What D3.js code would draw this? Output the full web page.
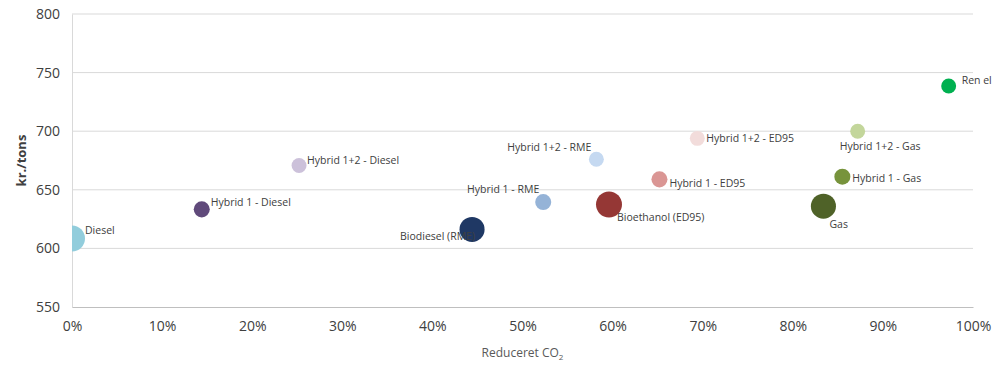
<!DOCTYPE html>
<html>
<head>
<meta charset="utf-8">
<script src="https://cdn.jsdelivr.net/npm/d3@7"></script>
<style>
  html, body { margin: 0; padding: 0; background: #fff; }
  svg { display: block; }
</style>
</head>
<body>
<svg id="chart" width="1004" height="366"></svg>
<script>
// ---- data ----
const names = ["Diesel", "Hybrid 1 - Diesel", "Hybrid 1+2 - Diesel",
  "Biodiesel (RME)", "Hybrid 1 - RME", "Hybrid 1+2 - RME",
  "Bioethanol (ED95)", "Hybrid 1 - ED95", "Hybrid 1+2 - ED95",
  "Gas", "Hybrid 1 - Gas", "Hybrid 1+2 - Gas", "Ren el"];
const co2Reduction = [0.0, 0.144, 0.252, 0.444, 0.523, 0.582, 0.596, 0.652, 0.694, 0.834, 0.855, 0.872, 0.973];
const costPerTon = [608.5, 633.3, 670.8, 616.2, 639.5, 676, 637.5, 658.9, 693.9, 636, 661.2, 700, 738.5];
const bubbleSize = [100, 38, 33, 93, 38, 33, 100, 38, 33, 93, 38, 33, 33];
const xTicks = [0, 0.1, 0.2, 0.3, 0.4, 0.5, 0.6, 0.7, 0.8, 0.9, 1.0];
const yTicks = [550, 600, 650, 700, 750, 800];

// ---- styles / layout ----
const colors = ["#92cddc", "#604a7b", "#ccc1da", "#1f3864", "#95b3d7", "#c5d9f1",
  "#953735", "#da9694", "#f2dcdb", "#4f6228", "#77933c", "#c3d69b", "#00b050"];
// label placement: [dx, dy, anchor]
const labelPlace = [[13, -8, "start"], [9, -7, "start"], [8, -5, "start"],
  [3, 7, "end"], [-4, -13, "end"], [-5, -12, "end"],
  [8, 13, "start"], [10, 4, "start"], [9, 0, "start"],
  [6, 18, "start"], [10, 2, "start"], [-18, 15, "start"], [13, -6, "start"]];

const svg = d3.select("#chart");
const x = d3.scaleLinear().domain([0, 1]).range([72, 973]);
const y = d3.scaleLinear().domain([550, 800]).range([307, 14]);
const r = d3.scaleSqrt().domain([0, 100]).range([0, 13]);
const font = "'Open Sans', 'Liberation Sans', sans-serif";

svg.append("defs").append("clipPath").attr("id", "plotClip")
  .append("rect").attr("x", x(0)).attr("y", y(800))
  .attr("width", x(1) - x(0)).attr("height", y(550) - y(800));

// gridlines
svg.append("g").selectAll("line").data(yTicks.filter(d => d > 550)).join("line")
  .attr("x1", x(0)).attr("x2", x(1))
  .attr("y1", d => y(d)).attr("y2", d => y(d))
  .attr("stroke", "#d9d9d9").attr("stroke-width", 1);

// y axis
const yAxis = svg.append("g").attr("transform", `translate(${x(0)},0)`)
  .call(d3.axisLeft(y).tickValues(yTicks).tickSize(0).tickPadding(12));
yAxis.select(".domain").attr("stroke", "#d9d9d9");
yAxis.selectAll("text").attr("font-family", font).attr("font-size", 14).attr("fill", "#404040");

// x axis
const xAxis = svg.append("g").attr("transform", `translate(0,${y(550)})`)
  .call(d3.axisBottom(x).tickValues(xTicks).tickFormat(d3.format(".0%")).tickSize(0).tickPadding(14));
xAxis.select(".domain").attr("stroke", "#bfbfbf");
xAxis.selectAll("text").attr("font-family", font).attr("font-size", 14).attr("fill", "#404040");

// axis titles
svg.append("text").attr("transform", `translate(26,${(y(550) + y(800)) / 2}) rotate(-90)`)
  .attr("text-anchor", "middle").attr("font-family", font).attr("font-size", 13)
  .attr("font-weight", "bold").attr("fill", "#404040").text("kr./tons");

const xt = svg.append("text").attr("x", (x(0) + x(1)) / 2).attr("y", 357)
  .attr("text-anchor", "middle").attr("font-family", font).attr("font-size", 12)
  .attr("fill", "#595959");
xt.append("tspan").text("Reduceret CO");
xt.append("tspan").attr("font-size", 8).attr("dy", 3).text("2");

// bubbles
const idx = d3.range(names.length).sort((a, b) => bubbleSize[b] - bubbleSize[a]);
svg.append("g").attr("clip-path", "url(#plotClip)")
  .selectAll("circle").data(idx).join("circle")
  .attr("cx", i => x(co2Reduction[i])).attr("cy", i => y(costPerTon[i]))
  .attr("r", i => r(bubbleSize[i])).attr("fill", i => colors[i]);

// labels
svg.append("g").selectAll("text").data(d3.range(names.length)).join("text")
  .attr("x", i => x(co2Reduction[i]) + labelPlace[i][0])
  .attr("y", i => y(costPerTon[i]) + labelPlace[i][1])
  .attr("dy", "0.35em")
  .attr("text-anchor", i => labelPlace[i][2])
  .attr("font-family", font).attr("font-size", 10.5).attr("fill", "#404040")
  .text(i => names[i]);
</script>
</body>
</html>
